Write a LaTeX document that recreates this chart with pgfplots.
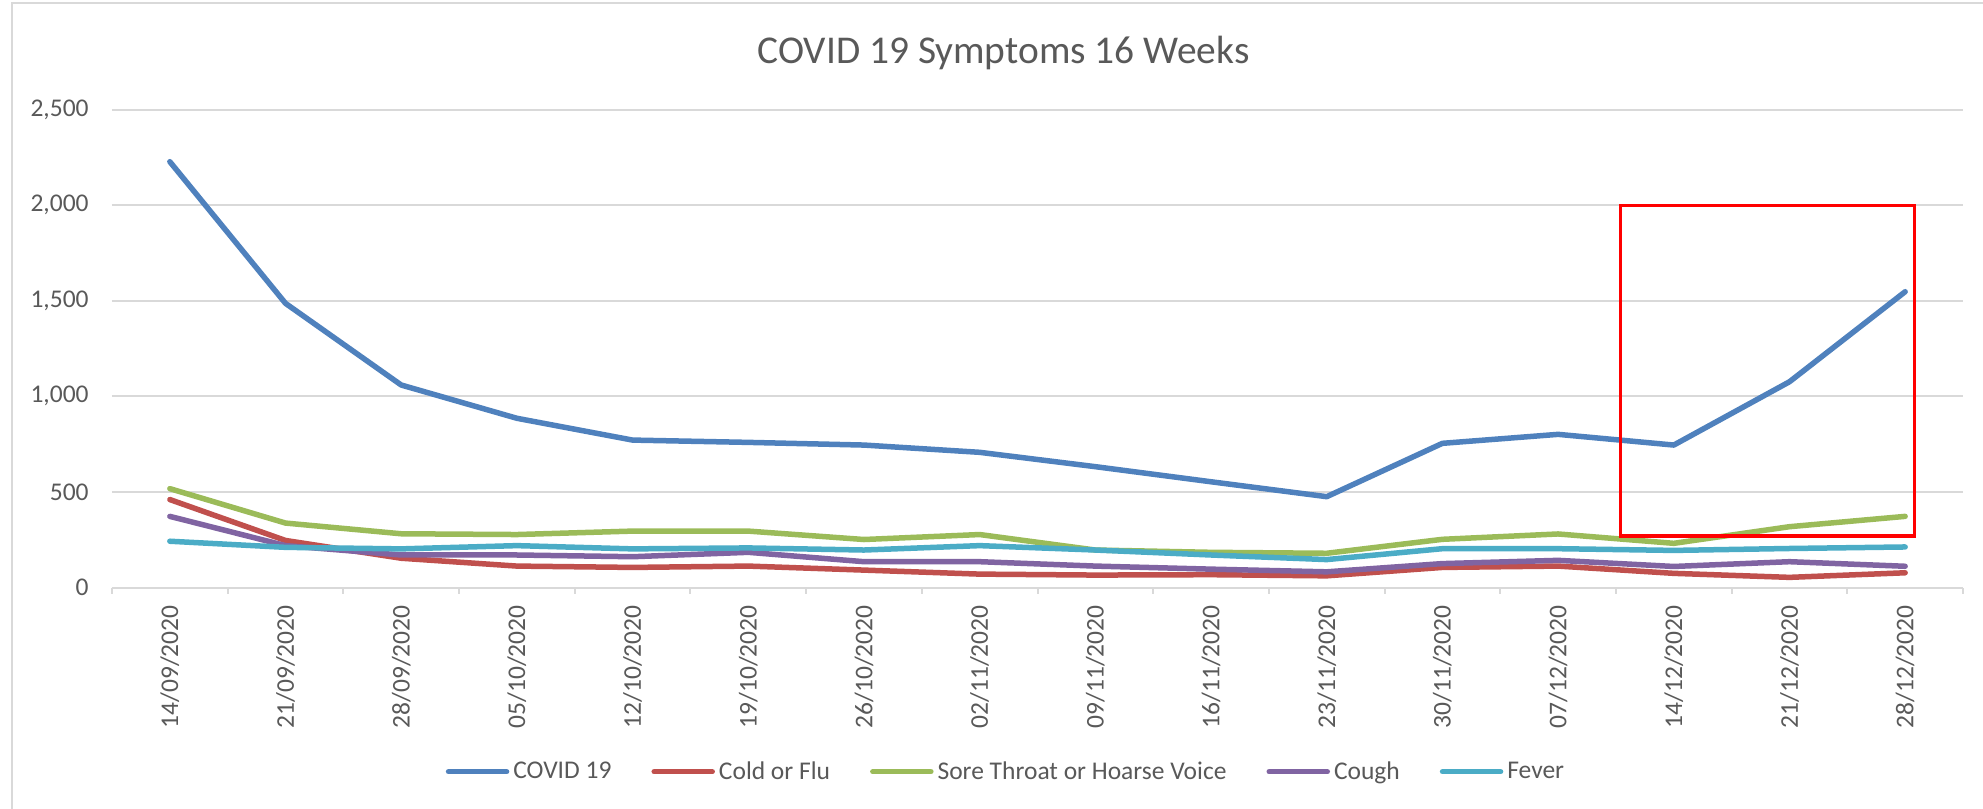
\documentclass[border=0pt]{standalone}
\usepackage{pgfplots}
\pgfplotsset{compat=1.18}
\usepackage{pgfplotstable}
\usepackage{fontspec}
\setmainfont{Carlito}
\definecolor{cblue}{HTML}{4F81BD}
\definecolor{cred}{HTML}{C0504D}
\definecolor{cgreen}{HTML}{9BBB59}
\definecolor{cpurple}{HTML}{8064A2}
\definecolor{caqua}{HTML}{4BACC6}
\definecolor{txt}{HTML}{595959}
\definecolor{gridc}{HTML}{D9D9D9}

\pgfplotstableread{
i covid cold sore cough fever
0 2227 460 517 372 242
1 1486 246 337 219 210
2 1059 153 281 170 202
3 885 112 277 170 219
4 771 105 295 161 202
5 759 112 295 184 207
6 745 91 251 135 196
7 707 70 277 135 219
8 632 65 196 112 196
9 553 67 184 96 170
10 475 61 179 82 146
11 754 105 252 125 203
12 801 112 280 142 203
13 745 74 231 110 194
14 1076 53 318 135 204
15 1547 77 372 111 212
}\data

\begin{document}
\begin{tikzpicture}
\path[use as bounding box] (-56pt,-110.75pt) rectangle (935.5pt,293.75pt);
\draw[gridc, line width=1.3pt] (-50pt,-112pt) -- (-50pt,292.25pt) -- (937pt,292.25pt);
\begin{axis}[
  at={(0pt,0pt)}, anchor=south west,
  scale only axis, width=925.5pt, height=239pt,
  xmin=-0.5, xmax=15.5, ymin=0, ymax=2500,
  xtick={0,...,15},
  xticklabels={14/09/2020,21/09/2020,28/09/2020,05/10/2020,12/10/2020,19/10/2020,26/10/2020,02/11/2020,09/11/2020,16/11/2020,23/11/2020,30/11/2020,07/12/2020,14/12/2020,21/12/2020,28/12/2020},
  minor xtick={-0.5,0.5,...,15.5},
  ytick={0,500,...,2500},
  axis x line*=bottom, axis y line*=left,
  x axis line style={gridc, line width=1pt, -},
  y axis line style={draw=none},
  major tick length=0pt, minor tick length=3pt, tick align=outside,
  minor tick style={gridc, line width=1pt},
  ymajorgrids, grid style={gridc, line width=1pt},
  tick label style={font=\fontsize{12.75}{15}\selectfont, text=txt},
  /pgf/number format/assume math mode=true,
  /pgf/number format/1000 sep={,},
  xticklabel style={rotate=90, anchor=east, inner sep=0pt},
  xticklabel shift=8.75pt,
  yticklabel style={anchor=east, inner sep=0pt},
  yticklabel shift=11.5pt,
  clip=false,
  legend columns=-1,
  legend style={draw=none, at={(0.4835,-0.3854)}, anchor=center,
    font=\fontsize{12.75}{15}\selectfont, text=txt,
    /tikz/every even column/.append style={column sep=18pt}},
  legend image code/.code={\draw[#1, line cap=round] (0pt,0pt) -- (29pt,0pt);},
]
\addplot[cblue, line width=2.75pt, line cap=round, line join=round] table[x=i, y=covid] {\data};
\addlegendentry{COVID 19}
\addplot[cred, line width=2.75pt, line cap=round, line join=round] table[x=i, y=cold] {\data};
\addlegendentry{Cold or Flu}
\addplot[cgreen, line width=2.75pt, line cap=round, line join=round] table[x=i, y=sore] {\data};
\addlegendentry{Sore Throat or Hoarse Voice}
\addplot[cpurple, line width=2.75pt, line cap=round, line join=round] table[x=i, y=cough] {\data};
\addlegendentry{Cough}
\addplot[caqua, line width=2.75pt, line cap=round, line join=round] table[x=i, y=fever] {\data};
\addlegendentry{Fever}
\draw[red, line width=1.6pt] (axis cs:12.54,269) rectangle (axis cs:15.08,2000);
\node[anchor=base, font=\fontsize{19.7}{23}\selectfont, text=txt] at (rel axis cs:0.48163,1.0967) {COVID 19 Symptoms 16 Weeks};
\end{axis}
\end{tikzpicture}
\end{document}
